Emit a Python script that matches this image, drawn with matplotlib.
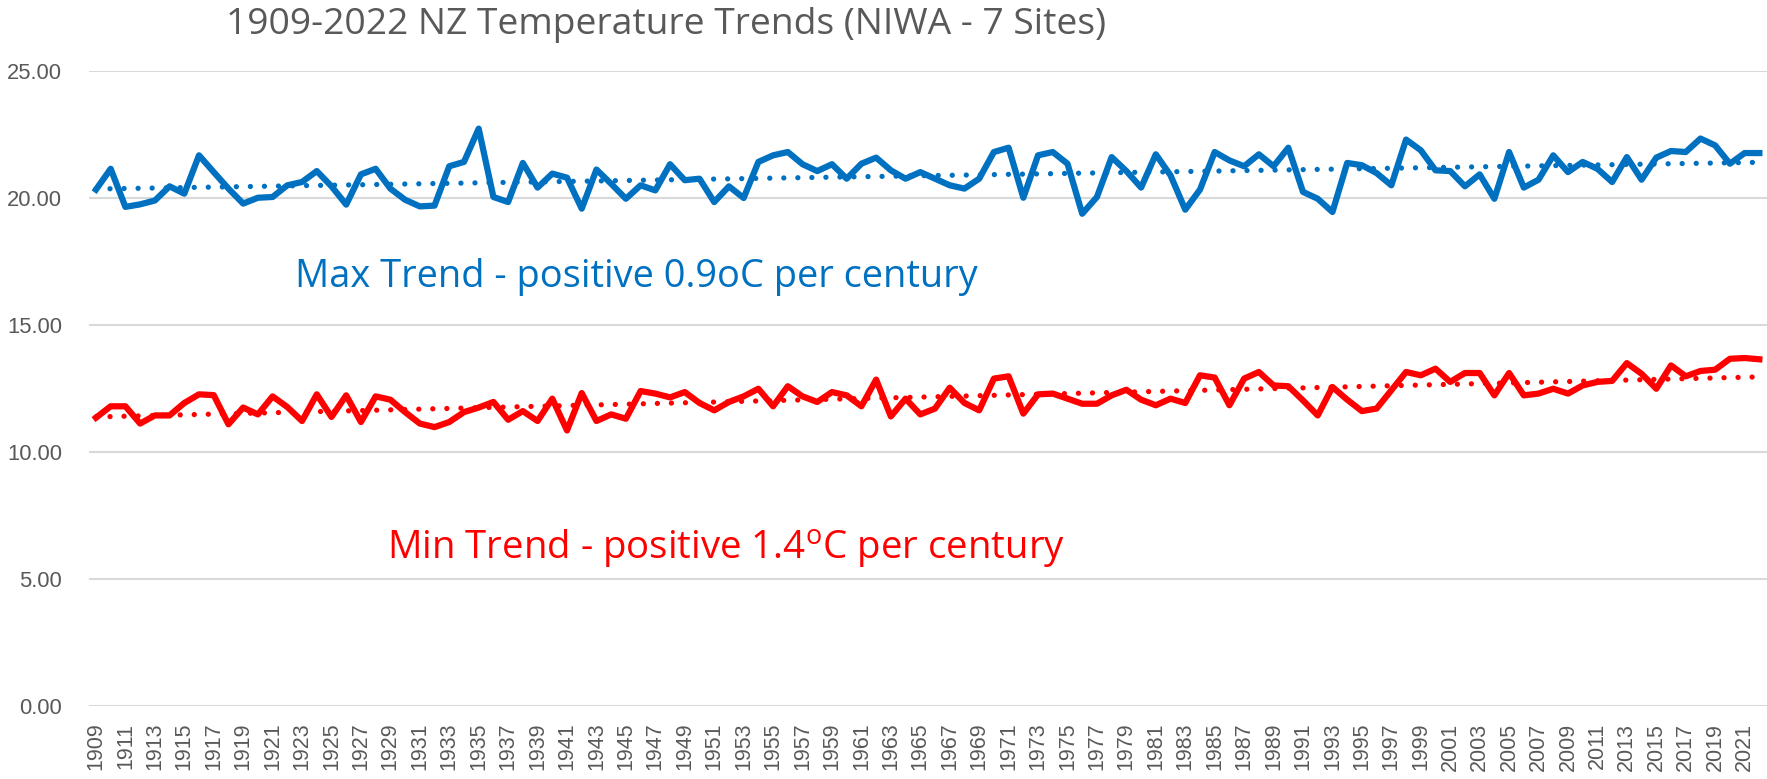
import matplotlib
matplotlib.use("Agg")
import matplotlib.pyplot as plt
import numpy as np

years = list(range(1909, 2023))
max_temp = [20.33, 21.15, 19.65, 19.75, 19.90, 20.46, 20.17, 21.68, 21.02, 20.37,
            19.78, 20.01, 20.04, 20.50, 20.63, 21.06, 20.46, 19.74, 20.93, 21.15,
            20.37, 19.93, 19.67, 19.70, 21.25, 21.42, 22.73, 20.04, 19.84, 21.38,
            20.41, 20.96, 20.80, 19.58, 21.12, 20.56, 19.97, 20.50, 20.30, 21.33,
            20.70, 20.76, 19.84, 20.46, 20.00, 21.42, 21.68, 21.81, 21.33, 21.06,
            21.33, 20.76, 21.35, 21.59, 21.09, 20.76, 21.02, 20.76, 20.50, 20.37,
            20.76, 21.81, 21.98, 20.01, 21.68, 21.81, 21.35, 19.38, 20.04, 21.61,
            21.06, 20.41, 21.72, 20.89, 19.54, 20.33, 21.81, 21.48, 21.25, 21.72,
            21.25, 21.98, 20.24, 19.97, 19.45, 21.38, 21.29, 20.98, 20.50, 22.30,
            21.88, 21.09, 21.06, 20.46, 20.93, 19.97, 21.81, 20.41, 20.72, 21.68,
            21.02, 21.42, 21.15, 20.63, 21.61, 20.72, 21.59, 21.85, 21.81, 22.34,
            22.07, 21.35, 21.77, 21.77]
min_temp = [11.35, 11.80, 11.80, 11.12, 11.44, 11.44, 11.93, 12.27, 12.24, 11.09,
            11.75, 11.48, 12.19, 11.77, 11.22, 12.27, 11.38, 12.23, 11.18, 12.19,
            12.06, 11.57, 11.12, 10.98, 11.18, 11.57, 11.75, 11.97, 11.27, 11.61,
            11.22, 12.10, 10.85, 12.32, 11.22, 11.48, 11.31, 12.40, 12.30, 12.15,
            12.36, 11.93, 11.64, 11.97, 12.19, 12.49, 11.80, 12.59, 12.19, 11.97,
            12.36, 12.23, 11.80, 12.85, 11.40, 12.10, 11.48, 11.71, 12.53, 11.93,
            11.64, 12.89, 12.98, 11.51, 12.27, 12.30, 12.10, 11.90, 11.90, 12.23,
            12.45, 12.06, 11.84, 12.10, 11.93, 13.02, 12.93, 11.84, 12.89, 13.15,
            12.62, 12.59, 12.03, 11.44, 12.56, 12.06, 11.61, 11.71, 12.43, 13.15,
            13.02, 13.28, 12.76, 13.11, 13.11, 12.23, 13.11, 12.23, 12.30, 12.49,
            12.30, 12.62, 12.76, 12.80, 13.50, 13.08, 12.49, 13.41, 12.98, 13.19,
            13.24, 13.67, 13.70, 13.65]
y_ticks = [0, 5, 10, 15, 20, 25]
title = "1909-2022 NZ Temperature Trends (NIWA - 7 Sites)"
max_label = "Max Trend - positive 0.9oC per century"
min_label = "Min Trend - positive 1.4$^{\\mathrm{o}}$C per century"

BLUE = "#0070C0"
RED = "#FF0000"
GRAY = "#595959"

plt.rcParams['mathtext.fontset'] = 'custom'
plt.rcParams['mathtext.rm'] = 'Open Sans'

W, H = 1767, 779
fig = plt.figure(figsize=(W / 100, H / 100), dpi=100)
left, right = 88.6 / W, 1766.7 / W
bottom, top = (H - 706) / H, (H - 71) / H
ax = fig.add_axes([left, bottom, right - left, top - bottom])

x = np.array(years)
ax.plot(x, max_temp, color=BLUE, lw=4.5, solid_joinstyle='round', zorder=3)
ax.plot(x, min_temp, color=RED, lw=4.5, solid_joinstyle='round', zorder=3)

for series, col in ((max_temp, BLUE), (min_temp, RED)):
    c = np.polyfit(x, series, 1)
    ax.plot(x, np.polyval(c, x), color=col, lw=3.8,
            linestyle=(0, (0.01, 2.65)), dash_capstyle='round', zorder=2)

ax.set_xlim(1908.5, 2022.5)
ax.set_ylim(0, 25)
ax.set_yticks(y_ticks)
ax.set_yticklabels([f"{v:.2f}" for v in y_ticks], fontsize=15.8,
                   family='Liberation Sans', color=GRAY)
ax.set_xticks(years[::2])
ax.set_xticklabels([str(y) for y in years[::2]], rotation=90, fontsize=15.5,
                   family='Liberation Sans', color=GRAY)
ax.tick_params(axis='y', length=0, pad=19)
ax.tick_params(axis='x', length=0, pad=12)
for s in ax.spines.values():
    s.set_visible(False)
ax.grid(axis='y', color='#D9D9D9', lw=1.5, zorder=0)
ax.set_axisbelow(True)

ax.text(1922.5, 16.9, max_label, color=BLUE, fontsize=27.4, family='Open Sans',
        ha='left', va='center')
ax.text(1928.8, 6.15, min_label, color=RED, fontsize=27.6, family='Open Sans',
        ha='left', va='center')

fig.text(666 / W, 1 - 25 / H, title, color=GRAY, fontsize=26.8, family='Open Sans',
         ha='center', va='center')

fig.savefig("out.png", dpi=100)
